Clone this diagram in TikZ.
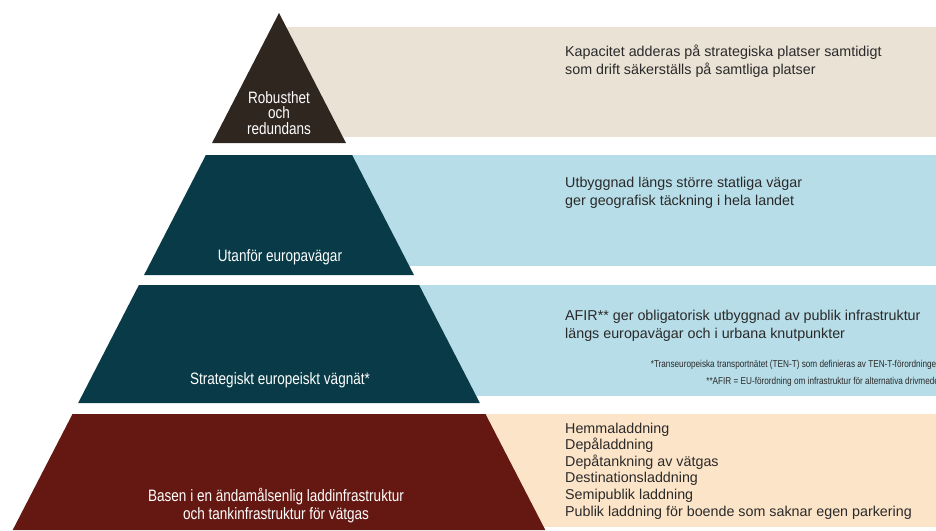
\documentclass[tikz,border=0pt]{standalone}
\usepackage{fontspec}
\setmainfont{Liberation Sans}
\newfontfamily\condfont[FakeStretch=0.82]{Liberation Sans}
\definecolor{beigeband}{HTML}{E9E2D5}
\definecolor{toptri}{HTML}{2F2620}
\definecolor{tealdark}{HTML}{083B47}
\definecolor{lblue}{HTML}{B7DDE8}
\definecolor{maroondark}{HTML}{641811}
\definecolor{peachband}{HTML}{FCE4C8}
\definecolor{txtgray}{HTML}{2A2A2A}
\begin{document}
\begin{tikzpicture}[x=1pt,y=-1pt,
  desc/.style={anchor=base west, inner sep=0, align=left, font=\fontsize{14.3}{18}\selectfont, text=txtgray},
  lbl/.style={inner sep=0, align=center, font=\condfont\fontsize{16.5}{15.5}\selectfont, text=white},
  foot/.style={anchor=base east, inner sep=0, font=\condfont\fontsize{10}{12}\selectfont, text=txtgray}]
\useasboundingbox (0,0) rectangle (936,530);
\clip (0,0) rectangle (936,530);
\fill[white] (0,0) rectangle (936,530);
% bands
\fill[beigeband] (279,27) rectangle (936,137);
\fill[lblue] (279,155) rectangle (936,266);
\fill[lblue] (279,285) rectangle (936,396);
\fill[peachband] (279,414) rectangle (936,527);
% pyramid layers
\fill[toptri] (279,13) -- (345.95,143) -- (212.05,143) -- cycle;
\fill[tealdark] (205.87,155) -- (352.13,155) -- (413.93,275) -- (144.07,275) -- cycle;
\fill[tealdark] (138.92,285) -- (419.08,285) -- (479.85,403) -- (78.15,403) -- cycle;
\fill[maroondark] (72.5,414) -- (485.5,414) -- (545.3,530) -- (12.7,530) -- cycle;
% layer labels (base = baseline of last line)
\node[lbl, anchor=base] (l1) at (279,134) {Robusthet\\och\\redundans};
\node[lbl, anchor=base] (l2) at (280,261) {Utanför europavägar};
\node[lbl, anchor=base] (l3) at (280,384) {Strategiskt europeiskt vägnät*};
\node[lbl, anchor=base, font=\condfont\fontsize{16.5}{17.5}\selectfont] (l4) at (276,519) {Basen i en ändamålsenlig laddinfrastruktur\\och tankinfrastruktur för vätgas};
% descriptions
\node[desc] (d1) at (565,74) {Kapacitet adderas på strategiska platser samtidigt\\som drift säkerställs på samtliga platser};
\node[desc] (d2) at (565,205) {Utbyggnad längs större statliga vägar\\ger geografisk täckning i hela landet};
\node[desc] (d3) at (565,338) {AFIR** ger obligatorisk utbyggnad av publik infrastruktur\\längs europavägar och i urbana knutpunkter};
\node[foot] (f1) at (941,367) {*Transeuropeiska transportnätet (TEN-T) som definieras av TEN-T-förordningen};
\node[foot] (f2) at (941,384) {**AFIR = EU-förordning om infrastruktur för alternativa drivmedel};
\node[desc, font=\fontsize{14.3}{16.6}\selectfont] (d4) at (565,516) {Hemmaladdning\\Depåladdning\\Depåtankning av vätgas\\Destinationsladdning\\Semipublik laddning\\Publik laddning för boende som saknar egen parkering};
\end{tikzpicture}
\end{document}
